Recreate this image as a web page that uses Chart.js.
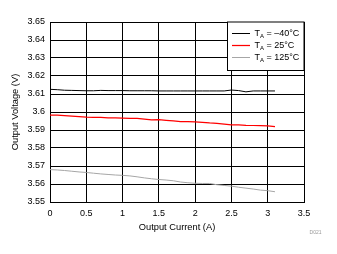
<!DOCTYPE html>
<html>
<head>
<meta charset="utf-8">
<script src="https://cdn.jsdelivr.net/npm/chart.js@4"></script>
<style>
  html, body { margin: 0; padding: 0; background: #fff; }
  #wrap { width: 337px; height: 254px; }
</style>
</head>
<body>
<div id="wrap"><canvas id="c" width="337" height="254"></canvas></div>
<script>
// ---- Data ----
const currents = [0,0.1,0.2,0.3,0.4,0.5,0.6,0.7,0.8,0.9,1.0,1.1,1.2,1.3,1.4,1.5,1.6,1.7,1.8,1.9,2.0,2.1,2.2,2.3,2.4,2.5,2.6,2.7,2.8,2.9,3.0,3.1];
const vMinus40 = [3.6126,3.6124,3.6121,3.6120,3.6119,3.6118,3.6118,3.6120,3.6119,3.6119,3.6119,3.6118,3.6118,3.6118,3.6118,3.6117,3.6117,3.6117,3.6117,3.6117,3.6117,3.6117,3.6117,3.6117,3.6117,3.6122,3.6119,3.6112,3.6117,3.6117,3.6117,3.6117];
const v25 = [3.5982,3.5982,3.5980,3.5977,3.5974,3.5971,3.5970,3.5970,3.5968,3.5967,3.5966,3.5965,3.5964,3.5961,3.5956,3.5957,3.5954,3.5951,3.5947,3.5946,3.5945,3.5943,3.5939,3.5937,3.5933,3.5929,3.5928,3.5926,3.5925,3.5924,3.5923,3.5919];
const v125 = [3.5680,3.5678,3.5675,3.5671,3.5667,3.5664,3.5660,3.5656,3.5653,3.5650,3.5648,3.5645,3.5640,3.5634,3.5629,3.5625,3.5622,3.5618,3.5611,3.5607,3.5604,3.5603,3.5603,3.5596,3.5592,3.5588,3.5582,3.5577,3.5572,3.5566,3.5563,3.5557];
const temps = ['\u201340\u00B0C', '25\u00B0C', '125\u00B0C'];
const xTitle = 'Output Current (A)';
const yTitle = 'Output Voltage (V)';
const note = 'D021';

const FONT = '"Liberation Sans", Arial, sans-serif';

function pts(ys) { return currents.map((x, i) => ({ x: x, y: ys[i] })); }

const legendPlugin = {
  id: 'boxLegend',
  afterDraw(chart) {
    const ctx = chart.ctx;
    const a = chart.chartArea;
    const x0 = 227.5, y0 = a.top, x1 = a.right, y1 = 70.5;
    ctx.save();
    ctx.fillStyle = '#fff';
    ctx.fillRect(x0, y0, x1 - x0, y1 - y0);
    ctx.strokeStyle = '#000';
    ctx.lineWidth = 1;
    ctx.strokeRect(x0, y0, x1 - x0, y1 - y0);
    const rows = [33.5, 45.5, 57.5];
    chart.data.datasets.forEach((ds, i) => {
      const y = rows[i];
      ctx.strokeStyle = ds.borderColor;
      ctx.lineWidth = ds.borderWidth;
      ctx.beginPath();
      ctx.moveTo(232, y);
      ctx.lineTo(250, y);
      ctx.stroke();
      ctx.fillStyle = '#000';
      ctx.textBaseline = 'middle';
      ctx.textAlign = 'left';
      ctx.font = '9px ' + FONT;
      let tx = 254.5;
      ctx.fillText('T', tx, y);
      tx += ctx.measureText('T').width;
      ctx.font = '6px ' + FONT;
      ctx.fillText('A', tx, y + 2.5);
      tx += ctx.measureText('A').width;
      ctx.font = '9px ' + FONT;
      ctx.fillText(' = ' + temps[i], tx, y);
    });
    ctx.font = '5px ' + FONT;
    ctx.fillStyle = '#999';
    ctx.textAlign = 'center';
    ctx.fillText(note, 315.5, 233);
    ctx.restore();
  }
};

new Chart(document.getElementById('c'), {
  type: 'line',
  data: {
    datasets: [
      { label: 'TA = ' + temps[0], data: pts(vMinus40), borderColor: '#000000', borderWidth: 1, pointRadius: 0, tension: 0, fill: false },
      { label: 'TA = ' + temps[1], data: pts(v25), borderColor: '#ff0000', borderWidth: 1.25, pointRadius: 0, tension: 0, fill: false },
      { label: 'TA = ' + temps[2], data: pts(v125), borderColor: '#a6a6a6', borderWidth: 1, pointRadius: 0, tension: 0, fill: false }
    ]
  },
  options: {
    responsive: false,
    animation: false,
    devicePixelRatio: 1,
    layout: { padding: { left: 0, top: 22, right: 33, bottom: 0 } },
    plugins: { legend: { display: false }, tooltip: { enabled: false } },
    scales: {
      x: {
        type: 'linear', min: 0, max: 3.5,
        afterFit(s) { s.height = 52; },
        ticks: { stepSize: 0.5, color: '#000', font: { family: FONT, size: 9 }, padding: 6, maxRotation: 0,
          callback: v => String(Number(v.toFixed(2))) },
        grid: { color: '#000', lineWidth: 1, drawTicks: false },
        border: { color: '#000', width: 1 },
        title: { display: true, text: xTitle, color: '#000', font: { family: FONT, size: 9.3 }, padding: { top: 0, bottom: 21 } }
      },
      y: {
        type: 'linear', min: 3.55, max: 3.65,
        afterFit(s) { s.width = 50; },
        ticks: { stepSize: 0.01, color: '#000', font: { family: FONT, size: 9 }, padding: 5,
          callback: v => String(Number(v.toFixed(2))) },
        grid: { color: '#000', lineWidth: 1, drawTicks: false },
        border: { color: '#000', width: 1 },
        title: { display: true, text: yTitle, color: '#000', font: { family: FONT, size: 9.3 }, padding: { top: 10, bottom: 0 } }
      }
    }
  },
  plugins: [legendPlugin]
});
</script>
</body>
</html>
